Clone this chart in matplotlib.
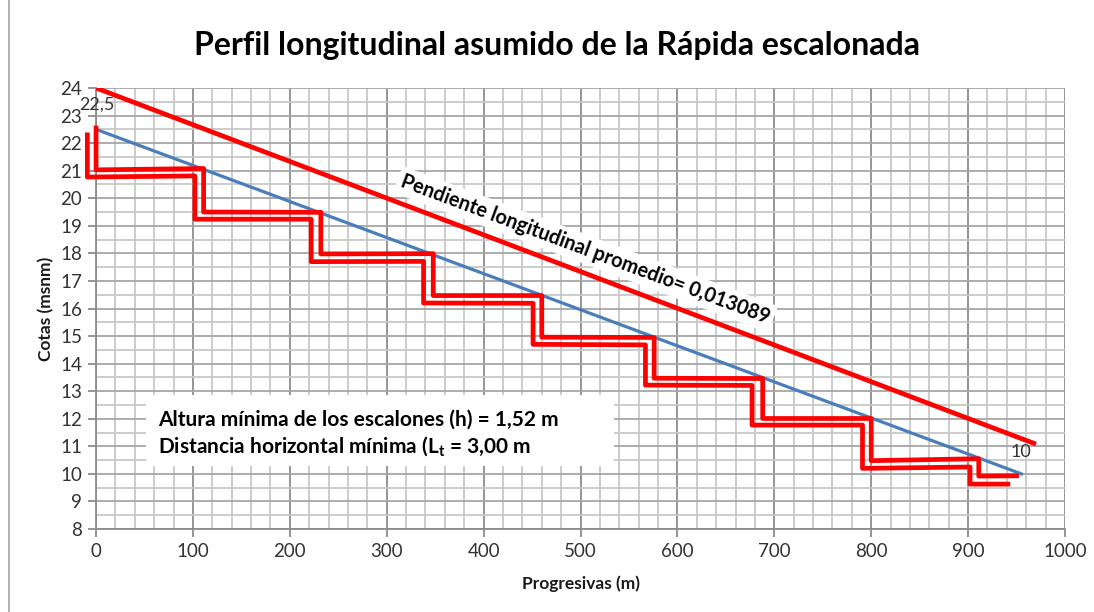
import matplotlib
matplotlib.use("Agg")
import matplotlib.pyplot as plt
import matplotlib.ticker as mticker
from matplotlib.patches import Rectangle
from matplotlib.lines import Line2D

plt.rcParams['font.family'] = ['Lato', 'DejaVu Sans']

# average slope line (top red)
slope_x = [0, 970]
slope_y = [24.0, 11.08]

# theoretical profile (blue)
profile_x = [0, 955]
profile_y = [22.5, 10.0]

# stepped profile, upper line
step_a_x = [0, 0, 111, 111, 232, 232, 348, 348, 460, 460, 576, 576, 688, 688, 800, 800, 911, 911, 950]
step_a_y = [22.55, 21.03, 21.08, 19.5, 19.49, 17.98, 17.99, 16.47, 16.47, 14.96, 14.95, 13.47, 13.46, 12.01, 12.01, 10.48, 10.55, 9.92, 9.93]

# stepped profile, lower line
step_b_x = [-9, -9, 102, 102, 222, 222, 338, 338, 451, 451, 567, 567, 677, 677, 791, 791, 902, 902, 941]
step_b_y = [22.3, 20.77, 20.81, 19.24, 19.24, 17.70, 17.71, 16.2, 16.19, 14.70, 14.68, 13.22, 13.21, 11.77, 11.77, 10.2, 10.25, 9.63, 9.63]

x_ticks = list(range(0, 1001, 100))
y_ticks = list(range(8, 25))

fig = plt.figure(figsize=(10.94, 6.12), dpi=100)
ax = fig.add_axes([0.0878, 0.1356, 0.8857, 0.7206])

ax.set_xlim(0, 1000)
ax.set_ylim(8, 24)
ax.xaxis.set_major_locator(mticker.FixedLocator(x_ticks))
ax.xaxis.set_minor_locator(mticker.MultipleLocator(20))
ax.yaxis.set_major_locator(mticker.FixedLocator(y_ticks))
ax.yaxis.set_minor_locator(mticker.MultipleLocator(0.5))

ax.grid(which='major', axis='x', color='#8c8c8c', linewidth=1.3)
ax.grid(which='major', axis='y', color='#a6a6a6', linewidth=1.3)
ax.grid(which='minor', color='#c8c8c8', linewidth=1.3)
ax.set_axisbelow(True)

for side in ['top', 'right']:
  ax.spines[side].set_visible(False)
for side in ['left', 'bottom']:
  ax.spines[side].set_color('#8c8c8c')
  ax.spines[side].set_linewidth(1.3)

ax.tick_params(which='major', length=6, color='#8c8c8c', width=1.3,
               labelsize=13.5, labelcolor='#333333', pad=4)
ax.tick_params(which='minor', length=0)

ax.plot(slope_x, slope_y, color='#ff0000', linewidth=3.4, solid_capstyle='butt', zorder=3)
ax.plot(profile_x, profile_y, color='#4a7ebb', linewidth=2.3, zorder=3)
ax.plot(step_a_x, step_a_y, color='#ff0000', linewidth=3.4, clip_on=False, zorder=3)
ax.plot(step_b_x, step_b_y, color='#ff0000', linewidth=3.4, clip_on=False, zorder=3)

# point labels
ax.text(profile_x[0] + 1, profile_y[0] + 0.9, '22,5', fontsize=13, color='#333333',
        ha='center', va='center', zorder=4)
ax.text(profile_x[1] - 1, profile_y[1] + 0.8, '10', fontsize=13, color='#333333',
        ha='center', va='center', zorder=4)

# slope annotation
ax.text(505, 18.15, 'Pendiente longitudinal promedio= 0,013089', fontsize=14.3,
        fontweight='bold', color='black', rotation=-20.5, rotation_mode='anchor',
        ha='center', va='center', zorder=2.5,
        bbox=dict(facecolor='white', edgecolor='none', pad=3))

# step info box
ax.add_patch(Rectangle((52, 10.3), 483, 2.55, facecolor='white', edgecolor='none', zorder=2))
ax.text(64, 11.97, 'Altura mínima de los escalones (h) = 1,52 m', fontsize=15,
        fontweight='bold', color='black', ha='left', va='center', zorder=4)
ax.text(64, 10.97, r'Distancia horizontal mínima (L$_\mathregular{t}$ = 3,00 m', fontsize=15,
        fontweight='bold', color='black', ha='left', va='center', zorder=4)

ax.set_xlabel('Progresivas (m)', fontsize=12.5, fontweight='bold', color='#1a1a1a', labelpad=11)
ax.set_ylabel('Cotas (msnm)', fontsize=12.5, fontweight='bold', color='#1a1a1a', labelpad=4)

fig.suptitle('Perfil longitudinal asumido de la Rápida escalonada', fontsize=23,
             fontweight='bold', color='black', x=0.509, y=0.926, va='center')

# outer frame line on the left
fig.add_artist(Line2D([9 / 1094, 9 / 1094], [0, 1], color='#a6a6a6', linewidth=1.2))

fig.savefig('out.png', dpi=100, facecolor='white')
